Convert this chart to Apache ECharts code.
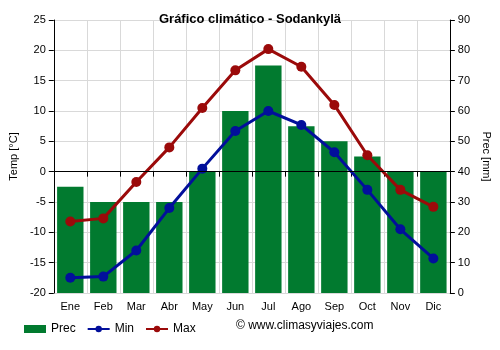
<!DOCTYPE html>
<html><head><meta charset="utf-8">
<script src="https://cdn.jsdelivr.net/npm/echarts@6/dist/echarts.min.js"></script>
<style>html,body{margin:0;padding:0;background:#fff}#c{width:500px;height:350px}</style>
</head><body><div id="c"></div>
<script>
const months = ['Ene','Feb','Mar','Abr','May','Jun','Jul','Ago','Sep','Oct','Nov','Dic'];
const prec = [35,30,30,30,40,60,75,55,50,45,40,40];
const tMin = [-17.5,-17.3,-13,-6,0.5,6.7,10,7.7,3.2,-3,-9.5,-14.3];
const tMax = [-8.2,-7.7,-1.7,4,10.5,16.7,20.2,17.3,11,2.7,-3,-5.8];

const chart = echarts.init(document.getElementById('c'), null, {renderer:'canvas'});
const font = 'Arial, Liberation Sans, sans-serif';
chart.setOption({
  animation:false,
  title:{text:'Gráfico climático - Sodankylä',left:'center',top:8,textStyle:{fontFamily:font,fontSize:13,fontWeight:'bold',color:'#000'}},
  grid:{left:49,right:49,top:20,bottom:57},
  legend:{left:19,top:318,itemWidth:22,itemHeight:8,itemGap:11,textStyle:{fontFamily:font,fontSize:12,color:'#000'},
    data:[{name:'Prec',icon:'rect'},{name:'Min'},{name:'Max'}]},
  graphic:[{type:'text',left:236,top:320,style:{text:'© www.climasyviajes.com',fontFamily:font,fontSize:12,fill:'#000'}}],
  xAxis:{type:'category',data:months,boundaryGap:true,
    axisLine:{lineStyle:{color:'#000'}},axisTick:{show:true,alignWithLabel:false,lineStyle:{color:'#000'}},
    axisLabel:{fontFamily:font,fontSize:11,color:'#000',margin:8},
    splitLine:{show:true,lineStyle:{color:'#d9d9d9'}}},
  yAxis:[
    {type:'value',min:-20,max:25,interval:5,name:'Temp [°C]',nameLocation:'middle',nameGap:30,nameRotate:90,
     nameTextStyle:{fontFamily:font,fontSize:11,color:'#000'},
     axisLine:{show:true,lineStyle:{color:'#000'}},axisTick:{show:true,lineStyle:{color:'#000'}},
     axisLabel:{fontFamily:font,fontSize:11,color:'#000'},splitLine:{show:true,lineStyle:{color:'#d9d9d9'}}},
    {type:'value',min:0,max:90,interval:10,name:'Prec [mm]',nameLocation:'middle',nameGap:30,nameRotate:-90,
     nameTextStyle:{fontFamily:font,fontSize:11,color:'#000'},
     axisLine:{show:true,lineStyle:{color:'#000'}},axisTick:{show:true,lineStyle:{color:'#000'}},
     axisLabel:{fontFamily:font,fontSize:11,color:'#000'},splitLine:{show:false}}
  ],
  series:[
    {name:'Prec',type:'bar',yAxisIndex:1,data:prec,barCategoryGap:'20%',itemStyle:{color:'#017a2f'}},
    {name:'Min',type:'line',data:tMin,symbol:'circle',symbolSize:10,lineStyle:{width:3,color:'#020f9b'},itemStyle:{color:'#020f9b'},
     markLine:{silent:true,symbol:'none',label:{show:false},lineStyle:{color:'#000',width:1.2,type:'solid'},data:[{yAxis:0}]}},
    {name:'Max',type:'line',data:tMax,symbol:'circle',symbolSize:10,lineStyle:{width:3,color:'#9b0a0a'},itemStyle:{color:'#9b0a0a'}}
  ]
});
</script></body></html>
